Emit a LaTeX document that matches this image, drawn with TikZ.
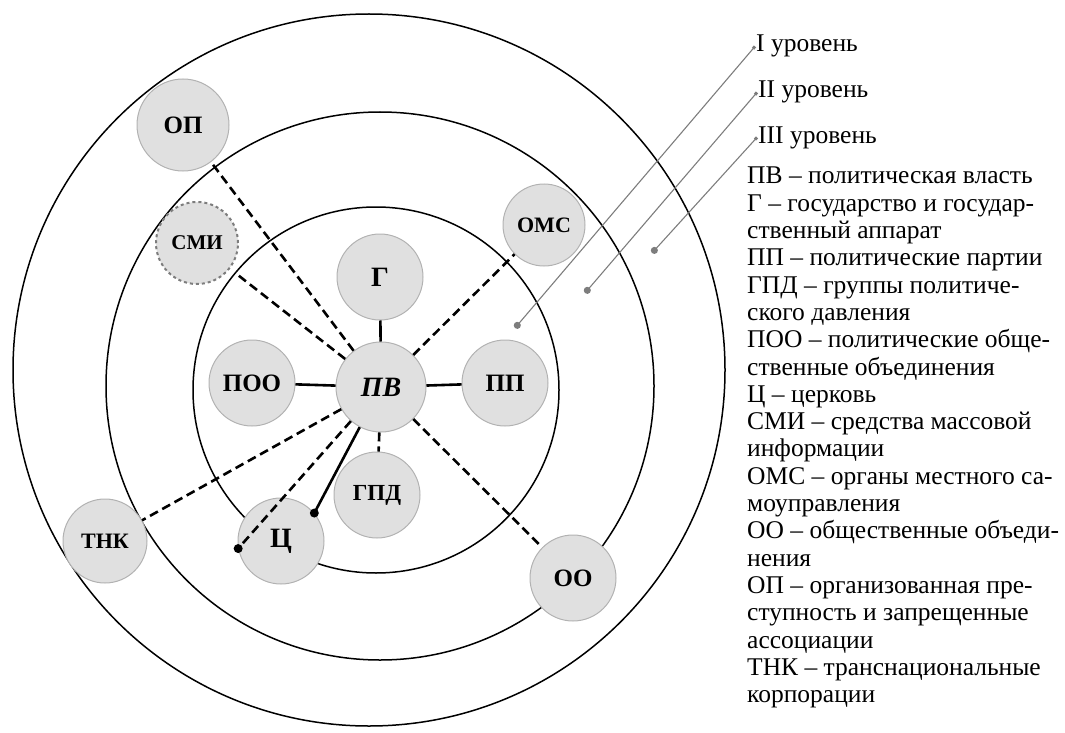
\documentclass[tikz,border=0pt]{standalone}
\usepackage{fontspec}
\setmainfont{Liberation Serif}
\usetikzlibrary{positioning,arrows.meta,calc}
\definecolor{actorfill}{RGB}{224,224,224}
\definecolor{actorline}{RGB}{178,178,178}
\definecolor{pointer}{RGB}{125,125,125}

\begin{document}
\begin{tikzpicture}[x=1pt, y=-1pt,
  actor/.style={circle, draw=actorline, fill=actorfill, line width=1pt, minimum size=86pt, inner sep=0pt, font=\fontsize{25}{25}\selectfont\bfseries},
  ring/.style={line width=1.5pt},
  link/.style={line width=2.6pt},
  weak/.style={line width=2.6pt, dash pattern=on 9pt off 5pt},
  level/.style={draw=pointer, line width=1.1pt, {Square[length=3pt,width=3pt]}-{Circle[length=7pt]}},
  caption/.style={anchor=base west, inner sep=1pt, font=\fontsize{25.5}{27}\selectfont}
]
  \useasboundingbox (0,0) rectangle (1065,733);

  % Levels of power
  \draw[ring] (369,370) circle (356);
  \draw[ring] (380,386) circle (274);
  \draw[ring] (376,390) circle (183);

  % Centre and first level
  \node[actor, minimum size=90pt, font=\fontsize{28}{28}\selectfont\bfseries\itshape] (pv) at (381,387) {ПВ};
  \node[actor, font=\fontsize{28}{28}\selectfont\bfseries] (g) at (380,277) {Г};
  \node[actor] (poo) at (252,383) {ПОО};
  \node[actor] (pp) at (505,383) {ПП};
  \node[actor, font=\fontsize{23}{23}\selectfont\bfseries] (gpd) at (377,495) {ГПД};
  \node[actor, font=\fontsize{28}{28}\selectfont\bfseries] (chr) at (281,541) {Ц};

  % Second level
  \node[actor, minimum size=82pt, draw=pointer, line width=2pt, dashed, font=\fontsize{21}{21}\selectfont\bfseries] (smi) at (197,243) {СМИ};
  \node[actor, minimum size=82pt, font=\fontsize{22}{22}\selectfont\bfseries] (oms) at (544,225) {ОМС};
  \node[actor] (oo) at (573,578) {ОО};

  % Third level
  \node[actor, minimum size=92pt] (op) at (183,125) {ОП};
  \node[actor, minimum size=84pt, font=\fontsize{22}{22}\selectfont\bfseries] (tnk) at (105,541) {ТНК};

  % Direct ties
  \draw[link] (pv) -- (g);
  \draw[link] (pv) -- (poo);
  \draw[link] (pv) -- (pp);
  \draw[link] (pv) -- (chr.40);
  \fill (chr.40) circle (4.5);

  % Indirect ties
  \draw[weak] (pv) -- (gpd);
  \draw[weak] (pv) -- (oms);
  \draw[weak] (pv) -- (op);
  \draw[weak, shorten >=7pt] (pv) -- (smi);
  \draw[weak] (pv) -- (tnk);
  \draw[weak] (pv) -- (oo);
  \draw[weak] (pv) -- (chr.190);
  \fill (chr.190) circle (4.5);

  % Level labels
  \node[caption] (lvl1) at (755,52) {I уровень};
  \node[caption] (lvl2) at (757,98) {II уровень};
  \node[caption] (lvl3) at (757,143) {III уровень};
  \coordinate (d1) at (515,328);
  \coordinate (d2) at (585,293);
  \coordinate (d3) at (652,253);
  \draw[level] (lvl1.west) -- (d1);
  \draw[level] (lvl2.west) -- (d2);
  \draw[level] (lvl3.west) -- (d3);

  % Legend
  \node[anchor=north west, inner sep=0pt, align=left, font=\fontsize{25.5}{27.3}\selectfont] (key) at (747,167) {%
    ПВ – политическая власть\\
    Г – государство и государ-\\
    ственный аппарат\\
    ПП – политические партии\\
    ГПД – группы политиче-\\
    ского давления\\
    ПОО – политические обще-\\
    ственные объединения\\
    Ц – церковь\\
    СМИ – средства массовой\\
    информации\\
    ОМС – органы местного са-\\
    моуправления\\
    ОО – общественные объеди-\\
    нения\\
    ОП – организованная пре-\\
    ступность и запрещенные\\
    ассоциации\\
    ТНК – транснациональные\\
    корпорации};
\end{tikzpicture}
\end{document}
